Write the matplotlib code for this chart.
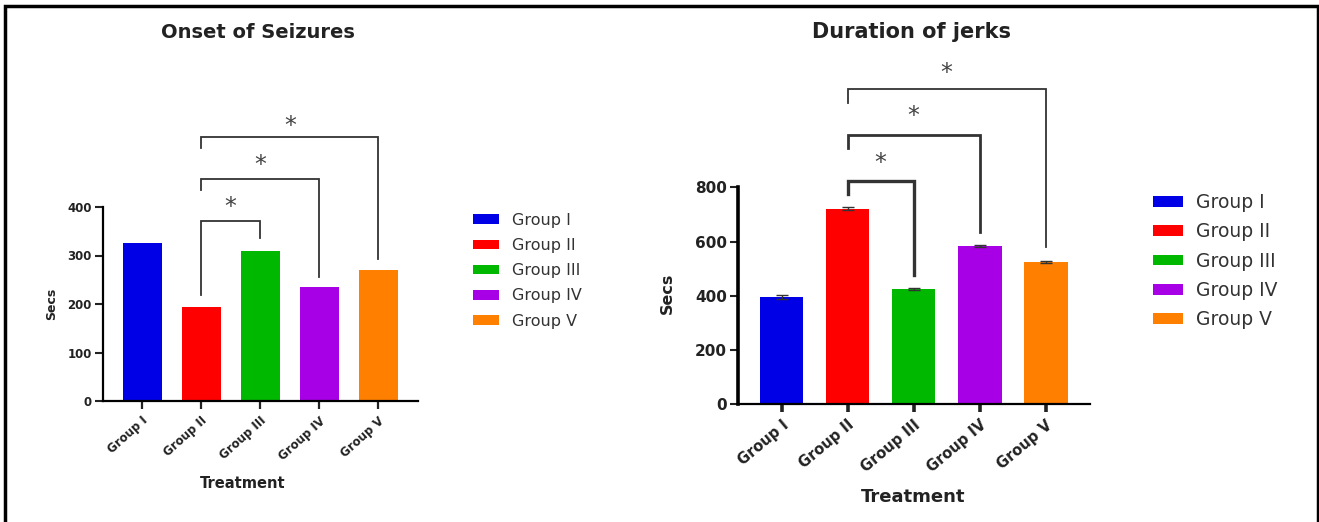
import numpy as np
import matplotlib.pyplot as plt
from matplotlib.patches import Patch, Rectangle
from matplotlib.transforms import offset_copy

# data
groups = ['Group I', 'Group II', 'Group III', 'Group IV', 'Group V']
colors = ['#0000e6', '#ff0000', '#00b800', '#a800e6', '#ff8000']

onset = [325, 194, 309, 235, 270]
duration = [395, 722, 424, 582, 524]
duration_err = [8, 5, 4, 4, 4]

# brackets: (from, to, top, left leg end, right leg end, star height)
onset_brackets = [(1, 2, 372, 218, 336, 410), (1, 3, 458, 435, 256, 497), (1, 4, 544, 522, 293, 577)]
duration_brackets = [(1, 2, 822, 774, 476, 907), (1, 3, 992, 947, 634, 1080), (1, 4, 1165, 1113, 579, 1242)]

W, H = 1319, 522
plt.rcParams['font.family'] = ['DejaVu Sans']
fig = plt.figure(figsize=(W / 100, H / 100), dpi=100)


def px_axes(x0, x1, y_bottom, y_top):
    return fig.add_axes([x0 / W, 1 - y_bottom / H, (x1 - x0) / W, (y_bottom - y_top) / H])


def draw_panel(ax, values, brackets, ymax, yticks, spine_lw, ytick_fs, xtick_fs, rot,
               star_fs, bracket_lws, err=None):
    x = np.arange(len(groups))
    ax.bar(x, values, width=0.66, color=colors, yerr=err, capsize=4 if err else 0,
           error_kw=dict(ecolor='#333333', lw=1), zorder=2)
    ax.set_xlim(-0.66, 4.67)
    ax.set_ylim(0, ymax)
    for s in ['top', 'right']:
        ax.spines[s].set_visible(False)
    ax.spines['left'].set_bounds(0, yticks[-1])
    ax.spines['left'].set_linewidth(spine_lw)
    ax.spines['bottom'].set_linewidth(1.6)
    ax.set_yticks(yticks)
    ax.set_xticks(x)
    ax.set_xticklabels(groups, rotation=rot, ha='right', rotation_mode='anchor')
    ax.tick_params(axis='y', width=1.5, length=6, labelsize=ytick_fs, colors='#222222', pad=2)
    ax.tick_params(axis='x', width=spine_lw, length=6, labelsize=xtick_fs, colors='#222222')
    for lab in ax.get_xticklabels() + ax.get_yticklabels():
        lab.set_fontweight('bold')
    star_tr = offset_copy(ax.transData, fig=fig, y=-0.5 * star_fs, units='points')
    for (a, b, top, l_end, r_end, star_y), lw in zip(brackets, bracket_lws):
        ax.plot([a, a, b, b], [l_end, top, top, r_end], color='#333333', lw=lw,
                clip_on=False, solid_joinstyle='miter')
        ax.text((a + b) / 2, star_y, '*', fontsize=star_fs, color='#444444', transform=star_tr,
                ha='center', va='baseline', clip_on=False)


# left panel
ax1 = px_axes(103, 418, 401, 110)
draw_panel(ax1, onset, onset_brackets, 600, [0, 100, 200, 300, 400], 1.6, 8.5, 8.5, 42, 17,
           [1.3, 1.3, 1.3])
fig.text(258 / W, 1 - 32 / H, 'Onset of Seizures', fontsize=14, fontweight='bold',
         color='#222222', ha='center', va='center')
fig.text(52 / W, 1 - 304 / H, 'Secs', fontsize=9, fontweight='bold', rotation=90,
         color='#222222', ha='center', va='center')
fig.text(243 / W, 1 - 484 / H, 'Treatment', fontsize=10.5, fontweight='bold',
         color='#222222', ha='center', va='center')
handles = [Patch(facecolor=c) for c in colors]
fig.legend(handles, groups, loc='upper left', bbox_to_anchor=(460 / W, 1 - 200 / H),
           frameon=False, fontsize=11.5, handlelength=1.65, handleheight=0.55,
           labelspacing=0.64, handletextpad=0.8, labelcolor='#333333', borderpad=0.3)

# right panel
ax2 = px_axes(738, 1090, 404, 52)
draw_panel(ax2, duration, duration_brackets, 1300, [0, 200, 400, 600, 800], 2.6, 11, 10.5, 40, 17,
           [2.4, 2.0, 1.3], err=duration_err)
fig.text(912 / W, 1 - 32 / H, 'Duration of jerks', fontsize=15, fontweight='bold',
         color='#222222', ha='center', va='center')
fig.text(667 / W, 1 - 293 / H, 'Secs', fontsize=11.5, fontweight='bold', rotation=90,
         color='#222222', ha='center', va='center')
fig.text(913 / W, 1 - 497 / H, 'Treatment', fontsize=13, fontweight='bold',
         color='#222222', ha='center', va='center')
fig.legend(handles, groups, loc='upper left', bbox_to_anchor=(1138 / W, 1 - 178 / H),
           frameon=False, fontsize=13.5, handlelength=1.6, handleheight=0.5,
           labelspacing=0.55, handletextpad=0.7, labelcolor='#333333', borderpad=0.3)

# outer frame
fig.add_artist(Rectangle((5 / W, -0.1), (1318 - 5) / W, 1.1 - 6 / H, transform=fig.transFigure,
                         fill=False, edgecolor='black', lw=2.5))

fig.savefig('out.png', dpi=100)
